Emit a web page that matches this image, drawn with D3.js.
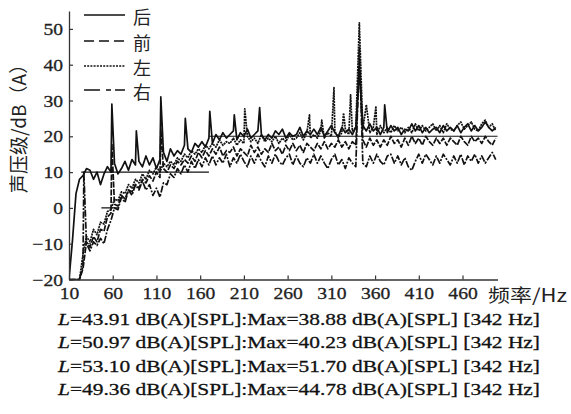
<!DOCTYPE html>
<html>
<head>
<meta charset="utf-8">
<script src="https://cdn.jsdelivr.net/npm/d3@7/dist/d3.min.js"></script>
<style>
  html, body { margin: 0; padding: 0; background: #fff; }
  svg { display: block; }
</style>
</head>
<body>
<svg id="chart" width="571" height="414"></svg>
<script>
// Frequency grid (Hz) shared by the four microphone spectra
const freqs = d3.range(10, 501, 4);

// Sound pressure level per grid frequency, dB(A)
const backLevel = [
  -20, -9, 4, 8, 9, 11, 10.5, 8, 10, 6.5, 9.5, 11.5,
  10, 12.5, 9.5, 11, 13, 10.5, 13.5, 12,
  13, 11.5, 14.5, 12, 14, 11, 13.5, 15.5, 13, 16.5,
  14.5, 16, 15, 17.5, 16.5, 15.5, 18, 17, 18.5, 17,
  19.5, 18, 20.5, 19, 21, 19.5, 20.5, 21.5, 19, 21,
  20, 22, 19.5, 20.5, 21.5, 20.5, 19, 20.5, 19.5, 21.5,
  20.5, 22, 19.5, 21, 20, 20.5, 22.5, 20, 21.5, 20.5,
  22, 20.5, 22.5, 20, 21.5, 23, 21, 20, 22.5, 21,
  22, 20.5, 22.5, 21, 23, 21.5, 23.5, 21.5, 22.5, 20.5,
  22.5, 21, 23, 21.5, 22.5, 20.5, 22, 21.5, 23.5, 21.5,
  23, 21, 22.5, 21, 22, 22.5, 21, 23, 21.5, 22.5,
  21.5, 23, 21, 22.5, 23.5, 21.5, 23, 21.5, 22.5, 24,
  22.5, 21.5, 22.5
];
const frontLevel = [
  -20, -20, -20, -20, -17, -9.5, -11, -8, -9.5, -6, -6.5, -2.5,
  -1.5, 1, 0.5, 3.5, 2.5, 5, 4.5, 6.5,
  5.5, 8, 7, 9, 7.5, 10, 8.5, 11, 10, 12,
  11, 13, 12, 13.5, 12.5, 14.5, 13, 15.5, 14, 16,
  14.5, 16.5, 15, 17, 14.5, 16, 15.5, 17, 14.5, 16.5,
  15.5, 14.5, 17.5, 15.5, 17, 15, 16.5, 15.5, 18, 16,
  17, 15, 17.5, 16, 18, 16, 17.5, 15.5, 18, 17,
  16, 18, 16.5, 18.5, 16.5, 18, 17, 19, 17, 18.5,
  16.5, 18.5, 17.5, 18, 19, 17, 19.5, 17.5, 19, 17,
  19, 17.5, 20, 18, 19, 17, 19.5, 17.5, 20, 18,
  19.5, 17.5, 20, 18.5, 17.5, 19.5, 18, 19.5, 17.5, 19.5,
  18.5, 17.5, 20, 18.5, 17.5, 20, 18.5, 19.5, 18, 20,
  18.5, 17.5, 19.5
];
const leftLevel = [
  -20, -20, -20, -20, -13, -8, -9.5, -6, -7.5, -4, -4.5, -1,
  -0.5, 2.5, 2, 4.5, 4, 6.5, 5.5, 8,
  7, 9.5, 8, 10.5, 9.5, 11.5, 10, 12.5, 11.5, 13,
  12, 14, 13, 15, 14, 16, 15, 16.5, 15.5, 17.5,
  16.5, 18, 17, 19, 17.5, 18.5, 18, 19.5, 17.5, 19,
  18, 20, 18.5, 19.5, 18, 20.5, 18.5, 19.5, 18.5, 20,
  18, 19.5, 18.5, 20.5, 19, 19.5, 21, 19, 21, 19.5,
  20.5, 19.5, 21.5, 19.5, 21, 20, 21.5, 19.5, 21, 22,
  20.5, 21.5, 22.5, 21, 22, 23, 21, 22.5, 20.5, 23,
  21, 22.5, 21, 23, 21.5, 22.5, 21, 22.5, 21, 23.5,
  21.5, 23, 21.5, 22.5, 23.5, 21.5, 23, 21, 23.5, 22,
  21.5, 23, 24, 22, 23, 24, 22, 21.5, 23.5, 24.5,
  22.5, 23.5, 21.5
];
const rightLevel = [
  -20, -20, -20, -20, -16, -10, -12, -9.5, -10.5, -8.5, -10, -6,
  -3.5, 0, -0.5, 3, 1.5, 5, 3.5, 6.5,
  5, 7.5, 5, 6.5, 3.5, 5.5, 3, 7, 6.5, 9.5,
  8.5, 11, 9.5, 12, 10, 13, 11, 13.5, 11.5, 14,
  12, 14.5, 12, 14, 12.5, 15, 11.5, 14, 12.5, 15,
  13, 11.5, 14.5, 12.5, 15, 13, 11.5, 14.5, 12.5, 15,
  13, 12, 14, 15, 12, 14.5, 12.5, 11.5, 14, 12.5,
  15, 12.5, 14.5, 12.5, 11, 13.5, 15, 12, 13.5, 11,
  14, 12.5, 11.5, 15.5, 12.5, 11.5, 14.5, 12.5, 15, 13,
  12, 14.5, 15, 12.5, 14.5, 12, 14, 11.5, 10.5, 13,
  15, 12.5, 15, 13.5, 12, 14.5, 12.5, 15, 13.5, 12,
  14.5, 12.5, 15, 12, 14.5, 13, 15, 12.5, 14.5, 12.5,
  14, 15.5, 13.5
];

// Narrow tonal peaks [frequency Hz, level dB(A)]
const backPeaks  = [[59, 29], [87, 21.5], [115, 31], [143, 25], [171, 27], [199, 26], [228, 28], [342, 38.88], [371, 28.8]];
const frontPeaks = [[59, 18], [115, 22], [342, 40.23]];
const leftPeaks  = [[211, 27.7], [285, 26], [299, 24.5], [313, 33.6], [324, 26.5], [332, 31.6], [342, 51.7], [350, 28.8], [361, 28.4]];
const rightPeaks = [[27, 10], [342, 44.78]];

// Stepped limit curve
const stepStart = [27, 47, 24, 170];
const stepEnd   = [35, 67, 170, 500];
const stepLevel = [-10, 0, 10, 20];

// Legend and summary text
const seriesNames = ["后", "前", "左", "右"];
const totalLevel = ["43.91", "50.97", "53.10", "49.36"];
const maxLevel   = ["38.88", "40.23", "51.70", "44.78"];
const peakFreq   = ["342", "342", "342", "342"];

const xTicks = [10, 60, 110, 160, 210, 260, 310, 360, 410, 460];
const yTicks = [-20, -10, 0, 10, 20, 30, 40, 50];

const svg = d3.select("#chart");
const serif = "'Liberation Serif', 'Times New Roman', serif";
const cjk = "'Noto Sans CJK SC', 'Noto Sans CJK TC', sans-serif";
const ink = "#111";

const x = d3.scaleLinear().domain([10, 500]).range([69, 497.5]);
const y = d3.scaleLinear().domain([-20, 55]).range([279.5, 11]);

svg.append("defs").append("clipPath").attr("id", "plot")
  .append("rect").attr("x", 69).attr("y", 5).attr("width", 430).attr("height", 275.5);

const plot = svg.append("g").attr("clip-path", "url(#plot)");

function buildSeries(levels, peaks) {
  const pts = freqs.map((f, i) => [f, levels[i]])
    .filter(p => !peaks.some(q => q[0] === p[0]));
  peaks.forEach(q => pts.push(q));
  pts.sort((a, b) => a[0] - b[0]);
  return pts;
}

const series = [
  { levels: backLevel,  peaks: backPeaks,  dash: null,            legendDash: null },
  { levels: frontLevel, peaks: frontPeaks, dash: "6,1.5",         legendDash: "10,5" },
  { levels: leftLevel,  peaks: leftPeaks,  dash: "2,0.8",         legendDash: "2,1.2" },
  { levels: rightLevel, peaks: rightPeaks, dash: "7,1.5,2,1.5",   legendDash: "16,6,5,4" }
];

const line = d3.line().x(d => x(d[0])).y(d => y(Math.max(-20, d[1])));

// stepped limit curve
plot.append("g").selectAll("line")
  .data(stepLevel.map((v, i) => ({ a: stepStart[i], b: stepEnd[i], v })))
  .join("line")
  .attr("x1", d => x(d.a)).attr("x2", d => x(d.b))
  .attr("y1", d => y(d.v)).attr("y2", d => y(d.v))
  .attr("stroke", ink).attr("stroke-width", 1.1);

// spectra: lighter-styled series underneath, solid on top
[3, 1, 2, 0].forEach(k => {
  const s = series[k];
  plot.append("path")
    .datum(buildSeries(s.levels, s.peaks))
    .attr("d", line)
    .attr("fill", "none")
    .attr("stroke", ink)
    .attr("stroke-width", 1.7)
    .attr("stroke-linejoin", "round")
    .attr("stroke-dasharray", s.dash);
});

// axes
const yAxis = svg.append("g").attr("transform", "translate(69,0)")
  .call(d3.axisLeft(y).tickValues(yTicks).tickSizeInner(-4).tickSizeOuter(0).tickPadding(6)
    .tickFormat(d => d < 0 ? "\u2212" + Math.abs(d) : d));
const xAxis = svg.append("g").attr("transform", "translate(0,279.5)")
  .call(d3.axisBottom(x).tickValues(xTicks).tickSizeInner(-4).tickSizeOuter(0).tickPadding(7));

[yAxis, xAxis].forEach(g => {
  g.select(".domain").attr("stroke", "#333").attr("stroke-width", 1.3);
  g.selectAll(".tick line").attr("stroke", "#333").attr("stroke-width", 1.2);
  g.selectAll(".tick text").attr("fill", "#222")
    .attr("stroke", "#222").attr("stroke-width", 0.3)
    .style("font-family", serif).style("font-size", "17.5px");
});
// slightly wider numerals
[yAxis, xAxis].forEach(g => {
  g.selectAll(".tick text").each(function () {
    const w = this.getComputedTextLength();
    d3.select(this).attr("textLength", w * 1.12).attr("lengthAdjust", "spacingAndGlyphs");
  });
});

// axis titles
svg.append("text")
  .attr("transform", "translate(26,124) rotate(-90)")
  .attr("text-anchor", "middle")
  .style("font-family", cjk).style("font-size", "19px").attr("fill", "#222")
  .text("声压级/dB（A）");

svg.append("text")
  .attr("x", 488).attr("y", 302)
  .attr("textLength", 79).attr("lengthAdjust", "spacingAndGlyphs")
  .style("font-family", cjk).style("font-size", "18px").attr("fill", "#222")
  .text("频率/Hz");

// legend
const legendY = [15, 41, 66, 90];
const legend = svg.append("g");
series.forEach((s, i) => {
  legend.append("line")
    .attr("x1", 84).attr("x2", 125)
    .attr("y1", legendY[i]).attr("y2", legendY[i])
    .attr("stroke", ink).attr("stroke-width", 1.3)
    .attr("stroke-dasharray", s.legendDash);
  legend.append("text")
    .attr("x", 133).attr("y", legendY[i] + 9)
    .style("font-family", cjk).style("font-size", "18px").attr("fill", "#222")
    .text(seriesNames[i]);
});

// summary lines under the chart
const baselines = [324.5, 348, 371.5, 395];
totalLevel.forEach((v, i) => {
  const t = svg.append("text")
    .attr("x", 58).attr("y", baselines[i])
    .attr("textLength", 482).attr("lengthAdjust", "spacingAndGlyphs")
    .style("font-family", serif).style("font-size", "17.5px")
    .attr("fill", "#111").attr("stroke", "#111").attr("stroke-width", 0.3);
  t.append("tspan").style("font-style", "italic").text("L");
  t.append("tspan").text("=" + v + " dB(A)[SPL]:Max=" + maxLevel[i] + " dB(A)[SPL] [" + peakFreq[i] + " Hz]");
});
</script>
</body>
</html>
